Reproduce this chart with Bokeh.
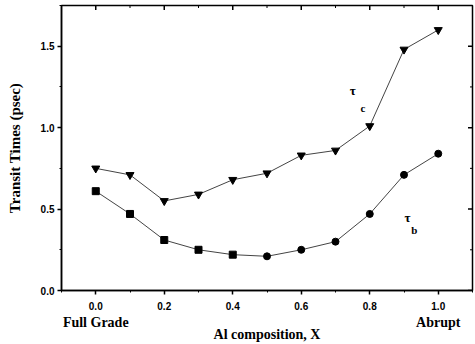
import math
from bokeh.plotting import figure
from bokeh.models import Range1d, Label, FixedTicker, PrintfTickFormatter, LinearAxis
from bokeh.embed import file_html
from bokeh.resources import INLINE

al_x = [0.0, 0.1, 0.2, 0.3, 0.4, 0.5, 0.6, 0.7, 0.8, 0.9, 1.0]
tau_c = [0.75, 0.71, 0.55, 0.59, 0.68, 0.72, 0.83, 0.86, 1.01, 1.48, 1.60]
tau_b = [0.61, 0.47, 0.31, 0.25, 0.22, 0.21, 0.25, 0.30, 0.47, 0.71, 0.84]
n_square = 5  # first points drawn as squares, rest as circles
x_ticks = [0.0, 0.2, 0.4, 0.6, 0.8, 1.0]
x_minor = [-0.1, 0.1, 0.3, 0.5, 0.7, 0.9, 1.1]
y_ticks = [0.0, 0.5, 1.0, 1.5]
y_minor = [0.25, 0.75, 1.25, 1.75]
end_ticks = [0, 1]
end_names = {0: "Full Grade", 1: "Abrupt"}

X0, X1, Y0, Y1 = -0.1, 1.1, 0.0, 1.75

p = figure(width=475, height=344, output_backend="svg", toolbar_location=None,
           x_range=Range1d(X0, X1), y_range=Range1d(Y0, Y1),
           min_border_left=61, min_border_right=3, min_border_top=5, min_border_bottom=0)
p.grid.visible = False
p.outline_line_color = "black"
p.outline_line_width = 1.5

lc = "#444444"
p.line(al_x, tau_c, line_color=lc, line_width=1)
p.line(al_x, tau_b, line_color=lc, line_width=1)
p.scatter(al_x, tau_c, marker="inverted_triangle", size=8, color="black")
p.scatter(al_x[:n_square], tau_b[:n_square], marker="square", size=7, color="black")
p.scatter(al_x[n_square:], tau_b[n_square:], marker="circle", size=7, color="black")

# inward ticks on the top and right frame edges (clipped dashes at the edge)
p.scatter(x_ticks, [Y1] * len(x_ticks), marker="dash", size=9, angle=math.pi / 2,
          line_color="black", line_width=1.5)
p.scatter(x_minor, [Y1] * len(x_minor), marker="dash", size=5, angle=math.pi / 2,
          line_color="black", line_width=1)
p.scatter([X1] * len(y_ticks), y_ticks, marker="dash", size=9,
          line_color="black", line_width=1.5)
p.scatter([X1] * len(y_minor), y_minor, marker="dash", size=5,
          line_color="black", line_width=1)

for ax in (p.xaxis[0], p.yaxis[0]):
    ax.axis_line_width = 1.5
    ax.major_tick_line_width = 1.5
    ax.major_tick_in = 0
    ax.major_tick_out = 4
    ax.minor_tick_in = 0
    ax.minor_tick_out = 2
    ax.formatter = PrintfTickFormatter(format="%.1f")
    ax.major_label_text_font = "Liberation Sans"
    ax.major_label_text_font_style = "bold"
    ax.major_label_text_font_size = "10px"
    ax.major_label_text_color = "black"

p.xaxis[0].ticker = FixedTicker(ticks=x_ticks, minor_ticks=x_minor)
p.yaxis[0].ticker = FixedTicker(ticks=y_ticks, minor_ticks=y_minor)
p.xaxis[0].major_label_standoff = 7
p.yaxis[0].major_label_standoff = 3
p.yaxis[0].axis_label = "Transit Times (psec)"
p.yaxis[0].axis_label_text_font = "Liberation Serif"
p.yaxis[0].axis_label_text_font_style = "bold"
p.yaxis[0].axis_label_text_font_size = "15px"
p.yaxis[0].axis_label_text_color = "black"
p.yaxis[0].axis_label_standoff = 15

# second bottom axis: "Full Grade" / "Abrupt" end labels and the axis title
ends = LinearAxis(ticker=FixedTicker(ticks=end_ticks), major_label_overrides=end_names,
                  axis_line_color=None, major_tick_line_color=None, minor_tick_line_color=None,
                  major_tick_in=0, major_tick_out=0, major_label_standoff=2,
                  major_label_text_font="Liberation Serif", major_label_text_font_style="bold",
                  major_label_text_font_size="14px", major_label_text_color="black",
                  axis_label="Al composition, X", axis_label_standoff=-6,
                  axis_label_text_font="Liberation Serif", axis_label_text_font_style="bold",
                  axis_label_text_font_size="14px", axis_label_text_color="black")
p.add_layout(ends, "below")

def txt(x, y, s, size):
    p.add_layout(Label(x=x, y=y, text=s, text_font="Liberation Serif",
                       text_font_style="bold", text_font_size=size, text_color="black",
                       text_align="center", text_baseline="middle"))

txt(0.75, 1.23, "τ", "13px")
txt(0.78, 1.12, "c", "11px")
txt(0.91, 0.45, "τ", "13px")
txt(0.93, 0.37, "b", "11px")

open("out.html", "w").write(file_html(p, INLINE))
